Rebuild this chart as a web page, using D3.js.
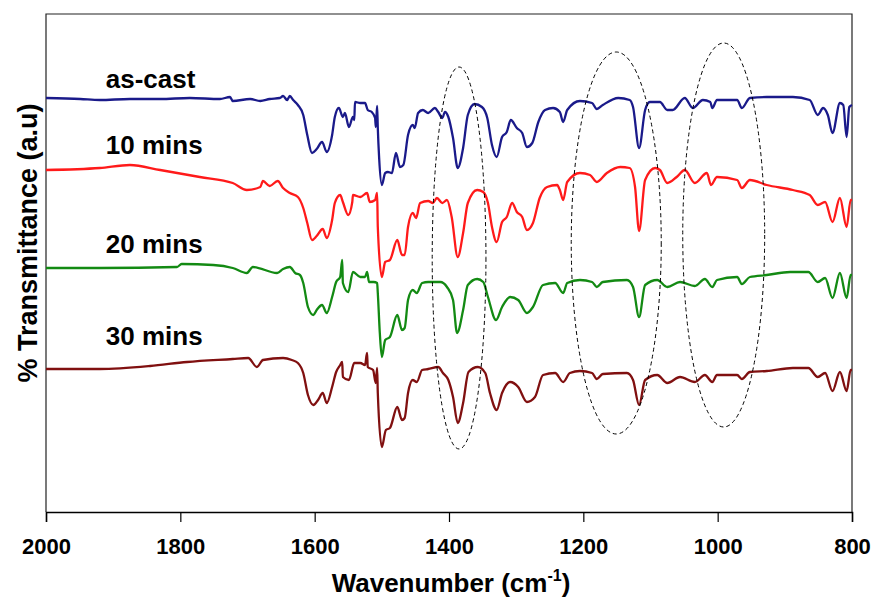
<!DOCTYPE html>
<html>
<head>
<meta charset="utf-8">
<script src="https://cdn.jsdelivr.net/npm/d3@7"></script>
<style>
  body { margin: 0; background: #fff; }
  svg text { font-family: Arial, "Liberation Sans", sans-serif; font-weight: bold; }
</style>
</head>
<body>
<div id="chart"></div>
<script>
// spectra: [wavenumber (cm-1), transmittance (a.u., offset for display)]
var asCast = [[2000,414],[1949,413],[1920,412],[1875,413],[1830,413],[1786,414],[1741,413],[1726,415],[1722,411],
	[1696,413],[1681,411],[1667,413],[1652,414],[1647,416],[1641,412],[1637,416],[1632,412],[1625,407],[1617,397],
	[1611,377],[1604,359],[1597,363],[1589,370],[1582,360],[1574,377],[1570,395],[1564,404],[1558,395],[1555,399],
	[1549,385],[1543,395],[1541,392],[1540,410],[1532,409],[1525,409],[1521,402],[1515,400],[1510,394],[1509,385],
	[1507,406],[1506,384],[1504,354],[1500,327],[1495,339],[1491,340],[1485,339],[1479,359],[1473,345],[1468,347],
	[1461,377],[1454,387],[1451,384],[1446,399],[1439,402],[1431,399],[1421,404],[1416,400],[1410,394],[1406,400],
	[1401,395],[1394,374],[1387,344],[1379,364],[1372,397],[1362,408],[1351,405],[1343,394],[1336,367],[1329,355],
	[1321,375],[1314,380],[1308,392],[1299,384],[1291,379],[1284,365],[1276,369],[1267,390],[1257,402],[1245,404],
	[1235,400],[1230,390],[1224,402],[1205,411],[1187,409],[1180,403],[1171,407],[1148,414],[1131,412],[1126,405],
	[1117,364],[1108,402],[1101,410],[1086,410],[1075,402],[1067,402],[1049,414],[1037,404],[1022,412],[1011,410],
	[1008,404],[1001,412],[971,412],[964,404],[952,414],[927,415],[888,415],[863,412],[851,397],[843,404],[836,397],
	[829,379],[818,409],[813,407],[808,375],[804,405],[800,407]];

var min10 = [[2000,342],[1920,344],[1875,347],[1830,342],[1771,335],[1722,329],[1701,322],[1681,325],[1677,331],
	[1667,326],[1655,331],[1647,324],[1637,319],[1625,315],[1617,304],[1611,289],[1604,272],[1597,276],[1588,283],
	[1582,274],[1574,292],[1570,309],[1562,317],[1558,310],[1550,297],[1544,310],[1543,317],[1532,315],[1522,319],
	[1518,310],[1510,312],[1507,319],[1506,285],[1500,235],[1495,250],[1488,252],[1477,272],[1470,257],[1466,257],
	[1461,285],[1454,299],[1449,294],[1443,309],[1431,311],[1424,309],[1418,314],[1410,309],[1403,312],[1396,295],
	[1387,255],[1379,279],[1372,309],[1358,322],[1349,320],[1342,309],[1336,285],[1329,270],[1321,290],[1314,295],
	[1306,309],[1299,300],[1291,295],[1284,282],[1275,289],[1265,314],[1254,325],[1239,327],[1235,322],[1230,312],
	[1224,330],[1205,339],[1190,337],[1180,330],[1165,339],[1145,345],[1131,344],[1123,325],[1117,281],[1108,332],
	[1093,344],[1086,342],[1075,329],[1061,335],[1049,342],[1034,329],[1016,339],[1010,327],[1001,335],[971,332],
	[964,324],[952,332],[927,327],[888,322],[863,317],[851,307],[840,310],[829,290],[818,314],[808,285],[802,312],[800,312]];

var min20 = [[2000,244],[1920,244],[1805,245],[1798,248],[1751,247],[1722,244],[1701,239],[1692,245],[1656,239],
	[1647,243],[1637,245],[1629,239],[1622,237],[1617,229],[1610,205],[1602,197],[1597,202],[1589,207],[1582,199],
	[1574,215],[1568,230],[1562,235],[1559,252],[1558,229],[1550,220],[1543,240],[1532,235],[1525,235],[1522,240],
	[1519,230],[1512,230],[1507,229],[1506,219],[1503,179],[1500,155],[1495,172],[1488,175],[1477,197],[1470,182],
	[1466,184],[1461,212],[1454,222],[1448,219],[1440,229],[1431,230],[1413,230],[1403,225],[1394,212],[1388,179],
	[1379,202],[1372,227],[1358,233],[1349,230],[1342,215],[1330,192],[1321,205],[1309,215],[1297,212],[1284,199],
	[1275,205],[1260,227],[1242,229],[1230,219],[1224,229],[1205,232],[1187,230],[1180,225],[1171,230],[1135,232],
	[1126,225],[1117,195],[1108,227],[1090,232],[1075,225],[1056,230],[1034,226],[1019,233],[1008,225],[1001,232],
	[971,235],[964,228],[952,235],[927,237],[892,240],[865,240],[851,230],[840,234],[829,214],[818,239],[808,214],
	[802,237],[800,237]];

var min30 = [[2000,143],[1920,143],[1845,146],[1790,150],[1722,153],[1699,154],[1686,145],[1677,152],[1647,154],
	[1634,152],[1625,149],[1617,139],[1610,117],[1602,107],[1595,112],[1588,119],[1582,109],[1574,125],[1568,140],
	[1562,147],[1559,150],[1558,135],[1549,132],[1541,149],[1532,149],[1525,147],[1522,159],[1521,145],[1513,142],
	[1509,129],[1507,144],[1506,119],[1500,65],[1494,82],[1488,84],[1477,105],[1470,92],[1466,94],[1461,119],
	[1454,132],[1448,130],[1440,142],[1431,143],[1416,145],[1409,139],[1401,132],[1394,115],[1387,89],[1379,109],
	[1371,140],[1357,145],[1346,139],[1339,119],[1329,102],[1321,119],[1309,130],[1297,125],[1284,110],[1272,115],
	[1260,137],[1242,139],[1230,130],[1220,139],[1205,141],[1187,139],[1180,133],[1171,138],[1135,139],[1126,132],
	[1117,107],[1108,132],[1090,137],[1075,129],[1056,135],[1034,130],[1019,137],[1008,130],[1001,137],[971,137],
	[964,133],[952,140],[927,141],[888,144],[865,144],[851,135],[840,139],[829,121],[818,140],[808,121],[802,142],[800,142]];

var seriesNames = ["as-cast", "10 mins", "20 mins", "30 mins"];
var seriesData = [asCast, min10, min20, min30];
var seriesColors = ["#1a1a8a", "#ff1a1a", "#138a13", "#801010"];
var labelLift = [10, 16, 15, 24];

var xTicks = [2000, 1800, 1600, 1400, 1200, 1000, 800];

// dashed ellipses marking bands: [centre wavenumber, half width, centre value, half height]
var bandMarks = [[1385, 40, 254, 191], [1151, 67, 269, 191], [991, 61, 277, 192]];

var width = 878, height = 603;
var plotLeft = 46, plotRight = 852, plotTop = 14, plotBottom = 512;

var svg = d3.select("#chart").append("svg")
	.attr("width", width)
	.attr("height", height);

var x = d3.scaleLinear().domain([2000, 800]).range([plotLeft, plotRight]);
var y = d3.scaleLinear().domain([0, 498]).range([plotBottom, plotTop]);

// frame
svg.append("path")
	.attr("d", "M" + plotLeft + "," + plotBottom + "V" + plotTop + "H" + plotRight + "V" + plotBottom)
	.attr("fill", "none")
	.attr("stroke", "#222")
	.attr("stroke-width", 1.2);

// bottom axis
var xAxis = svg.append("g")
	.attr("transform", "translate(0," + plotBottom + ")")
	.call(d3.axisBottom(x).tickValues(xTicks).tickSize(10).tickPadding(16).tickFormat(d3.format("d")));
xAxis.select(".domain").attr("stroke", "#000").attr("stroke-width", 1.5);
xAxis.selectAll(".tick line").attr("stroke", "#000").attr("stroke-width", 1.2);
xAxis.selectAll(".tick text")
	.attr("fill", "#000")
	.style("font-size", "22px");

// spectra
var line = d3.line()
	.x(function(d) { return x(d[0]); })
	.y(function(d) { return y(d[1]); })
	.curve(d3.curveMonotoneX);

svg.selectAll("path.spectrum")
	.data(seriesData)
	.enter()
	.append("path")
	.attr("class", "spectrum")
	.attr("d", line)
	.attr("fill", "none")
	.attr("stroke", function(d, i) { return seriesColors[i]; })
	.attr("stroke-width", 2.3)
	.attr("stroke-linejoin", "round");

// labels above each curve
svg.selectAll("text.series")
	.data(seriesNames)
	.enter()
	.append("text")
	.attr("class", "series")
	.attr("x", x(1911))
	.attr("y", function(d, i) { return y(seriesData[i][0][1] + labelLift[i]); })
	.style("font-size", "26px")
	.attr("fill", "#000")
	.text(function(d) { return d; });

// dashed ellipses
svg.selectAll("ellipse.band")
	.data(bandMarks)
	.enter()
	.append("ellipse")
	.attr("class", "band")
	.attr("cx", function(d) { return x(d[0]); })
	.attr("cy", function(d) { return y(d[2]); })
	.attr("rx", function(d) { return x(d[0] - d[1]) - x(d[0]); })
	.attr("ry", function(d) { return y(0) - y(d[3]); })
	.attr("fill", "none")
	.attr("stroke", "#000")
	.attr("stroke-width", 1)
	.attr("stroke-dasharray", "4,3");

// axis titles
var xTitle = svg.append("text")
	.attr("x", (plotLeft + plotRight) / 2 + 2)
	.attr("y", 592)
	.attr("text-anchor", "middle")
	.style("font-size", "26px")
	.attr("fill", "#000");
xTitle.append("tspan").text("Wavenumber (cm");
xTitle.append("tspan").attr("dy", -11).style("font-size", "16px").text("-1");
xTitle.append("tspan").attr("dy", 11).text(")");

svg.append("text")
	.attr("transform", "translate(37,243) rotate(-90)")
	.attr("text-anchor", "middle")
	.style("font-size", "27px")
	.attr("fill", "#000")
	.text("% Transmittance (a.u)");
</script>
</body>
</html>
